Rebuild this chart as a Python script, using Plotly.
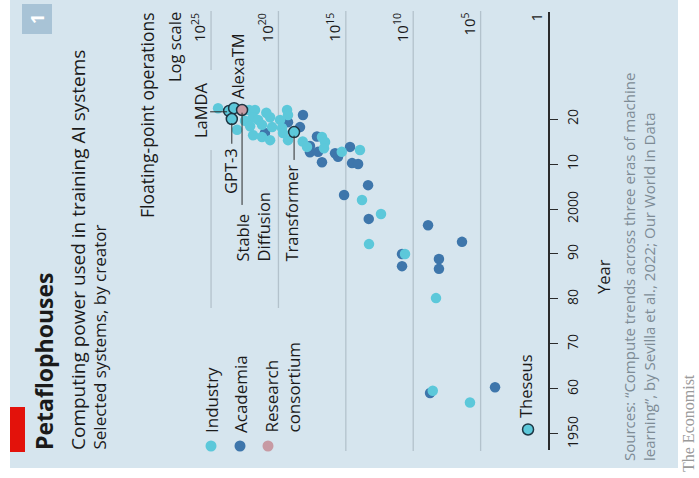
import plotly.graph_objects as go

W, H = 699, 478

# ---- data: publication year and training compute (log10 of FLOP) ----
industry_year = [2022.4, 2022.0, 2022.0, 2020.4, 2019.8, 2018.7, 2020.4, 2018.2, 2019.8,
                 2022.0, 2020.9, 2016.0, 2015.3, 2016.4, 2017.6, 2019.6, 2021.4, 2018.4,
                 2018.0, 2016.9, 2015.3, 2015.0, 2016.0, 2014.9, 2013.8, 2013.5, 2012.7,
                 2013.1, 2002.0, 1998.9, 1992.2, 1990.0, 1980.2, 1959.6, 1957.0]
industry_log_flop = [24.48, 22.18, 21.74, 21.88, 21.51, 21.22, 20.62, 20.47, 19.88,
                     19.36, 19.29, 21.22, 20.62, 21.88, 23.07, 22.48, 20.90, 22.10,
                     19.73, 19.66, 19.29, 18.20, 16.77, 16.54, 17.88, 16.62, 15.30,
                     13.95, 13.80, 12.39, 13.28, 10.61, 8.31, 8.55, 5.79]

academia_year = [2016.9, 2019.3, 2020.9, 2018.2, 2014.0, 2012.6, 2016.1, 2012.7, 2012.4,
                 2011.6, 2013.8, 2010.2, 2010.0, 2010.4, 2005.3, 2003.1, 1997.8, 1996.4,
                 1992.7, 1988.9, 1986.7, 1990.0, 1987.3, 1959.1, 1960.4]
academia_log_flop = [21.00, 19.29, 18.18, 18.40, 17.66, 17.66, 17.14, 17.06, 15.80,
                     15.58, 14.69, 14.54, 14.09, 16.77, 13.35, 15.13, 13.30, 8.90,
                     6.38, 8.09, 8.09, 10.83, 10.83, 8.75, 3.93]

consortium_name = ["Stable<br>Diffusion"]
consortium_year = [2022.0]
consortium_log_flop = [22.70]

named_systems = ["LaMDA", "AlexaTM", "GPT-3", "Transformer", "Theseus"]
named_year = [2021.8, 2022.4, 2020.0, 2017.1, 1951.0]
named_log_flop = [23.66, 23.29, 23.46, 18.84, 1.48]

year_ticks = [1950, 1960, 1970, 1980, 1990, 2000, 2010, 2020]
year_tick_text = ["1950", "60", "70", "80", "90", "2000", "10", "20"]

flop_grid = [25, 20, 15, 10, 5, 0]
flop_grid_text = ["10<sup>25</sup>", "10<sup>20</sup>", "10<sup>15</sup>",
                  "10<sup>10</sup>", "10<sup>5</sup>", "1"]

# ---- colours ----
BG = "#d6e5ee"
INDUSTRY = "#5cc8da"
ACADEMIA = "#3e76ab"
CONSORTIUM = "#c79aa3"
OUTLINE = "#1d3644"
GRID = "#b3c2cc"
AXIS = "#2b2b2b"
TEXT = "#1a1a1a"
FONT = "Open Sans"


def px(x):
    return x / W


def py(y):
    return 1 - y / H


fig = go.Figure()

common = dict(mode="markers", hoverinfo="skip", showlegend=False)
fig.add_trace(go.Scatter(x=academia_log_flop, y=academia_year,
                         marker=dict(size=10.5, color=ACADEMIA, line=dict(width=0)), **common))
fig.add_trace(go.Scatter(x=industry_log_flop, y=industry_year,
                         marker=dict(size=10.5, color=INDUSTRY, line=dict(width=0)), **common))
fig.add_trace(go.Scatter(x=named_log_flop, y=named_year,
                         marker=dict(size=11, color=INDUSTRY, line=dict(width=1.5, color=OUTLINE)),
                         **common))
fig.add_trace(go.Scatter(x=consortium_log_flop, y=consortium_year,
                         marker=dict(size=11, color=CONSORTIUM, line=dict(width=1.5, color=OUTLINE)),
                         **common))

shapes = []
# panel
shapes.append(dict(type="rect", xref="paper", yref="paper", x0=px(10), x1=px(678),
                   y0=py(468), y1=py(0), fillcolor=BG, line=dict(width=0), layer="below"))
# red tab and number badge
shapes.append(dict(type="rect", xref="paper", yref="paper", x0=px(10), x1=px(25),
                   y0=py(452), y1=py(407), fillcolor="#e3120b", line=dict(width=0)))
shapes.append(dict(type="rect", xref="paper", yref="paper", x0=px(22), x1=px(52),
                   y0=py(34), y1=py(4), fillcolor="#a8c3d6", line=dict(width=0)))

# gridlines (some are shortened to leave room for the key and labels)
grid_spans = {25: [(11, 70), (150, 308)], 20: [(11, 308)], 15: [(11, 451)],
              10: [(11, 451)], 5: [(11, 451)]}
for level, spans in grid_spans.items():
    for top, bottom in spans:
        shapes.append(dict(type="line", xref="x", yref="paper", x0=level, x1=level,
                           y0=py(bottom), y1=py(top), line=dict(color=GRID, width=1.3),
                           layer="below"))

# leader lines for named systems
lamda_i = named_systems.index("LaMDA")
gpt_i = named_systems.index("GPT-3")
tr_i = named_systems.index("Transformer")
shapes.append(dict(type="line", xref="x", yref="y", x0=25.07, x1=named_log_flop[lamda_i] + 0.15,
                   y0=named_year[lamda_i] - 0.2, y1=named_year[lamda_i] - 0.2,
                   line=dict(color=AXIS, width=1)))
shapes.append(dict(type="line", xref="x", yref="y", x0=named_log_flop[gpt_i], x1=named_log_flop[gpt_i],
                   y0=named_year[gpt_i] - 0.9, y1=2014.5, line=dict(color=AXIS, width=1)))
shapes.append(dict(type="line", xref="x", yref="y", x0=consortium_log_flop[0], x1=consortium_log_flop[0],
                   y0=consortium_year[0] - 0.6, y1=2000.9, line=dict(color=AXIS, width=1)))
shapes.append(dict(type="line", xref="x", yref="y", x0=named_log_flop[tr_i], x1=named_log_flop[tr_i],
                   y0=named_year[tr_i] - 0.8, y1=2010.9, line=dict(color=AXIS, width=1)))

# key markers
for cx, col in [(211, INDUSTRY), (240, ACADEMIA), (268, CONSORTIUM)]:
    shapes.append(dict(type="circle", xref="paper", yref="paper", xsizemode="pixel",
                       ysizemode="pixel", xanchor=px(cx), yanchor=py(446),
                       x0=-5.5, x1=5.5, y0=-5.5, y1=5.5, fillcolor=col, line=dict(width=0)))

ann = []


def vtext(text, x, y, size, yanchor="bottom", xanchor="center", color=TEXT, family=FONT,
          align="left", xref="paper", yref="paper"):
    ann.append(dict(text=text, x=x, y=y, xref=xref, yref=yref, showarrow=False,
                    textangle=-90, xanchor=xanchor, yanchor=yanchor, align=align,
                    font=dict(size=size, color=color, family=family)))


vtext("<b>Petaflophouses</b>", px(44), py(452), 23)
vtext("Computing power used in training AI systems", px(78), py(452), 19)
vtext("Selected systems, by creator", px(99), py(452), 17)
vtext("Floating-point operations", px(147), py(10), 17.5, yanchor="top")
vtext("Log scale", px(174), py(10), 16.5, yanchor="top")
vtext("<b>1</b>", px(37), py(19), 18, yanchor="middle", color="white")

for level, label in zip(flop_grid, flop_grid_text):
    ann.append(dict(text=label, x=level, y=py(11), xref="x", yref="paper", showarrow=False,
                    textangle=-90, xanchor="right", yanchor="top", xshift=0,
                    font=dict(size=15, color=TEXT, family=FONT)))

# labels for named systems
vtext("LaMDA", px(200), py(140), 16.5)
vtext("AlexaTM", px(238), py(101), 16.5)
vtext("GPT-3", px(230), py(196), 16.5)
vtext(consortium_name[0], px(252), py(264), 16.5)
vtext("Transformer", px(291), py(264), 16.5)
vtext("Theseus", px(525), py(420), 16.5)

# key
vtext("Industry", px(211), py(435), 17)
vtext("Academia", px(240), py(435), 17)
vtext("Research<br>consortium", px(282), py(435), 17)

vtext("Year", px(603), py(277), 16.5, yanchor="middle")
vtext("Sources: \u201cCompute trends across three eras of machine<br>"
      "learning\u201d, by Sevilla et al., 2022; Our World in Data",
      px(639), py(463), 15, color="#7d8b95")
vtext("The Economist", px(688), py(474), 16, color="#9a9a9a", family="Liberation Serif")

fig.update_layout(
    width=W, height=H, margin=dict(l=0, r=0, t=0, b=0),
    paper_bgcolor="white", plot_bgcolor="rgba(0,0,0,0)",
    shapes=shapes, annotations=ann,
    xaxis=dict(domain=[px(200), px(548)], range=[25.82, 0], showgrid=False, zeroline=False,
               showticklabels=False, ticks="", showline=False, fixedrange=True),
    yaxis=dict(domain=[py(450), py(12)], range=[1946.44, 2043.78], side="right",
               showgrid=False, zeroline=False, showline=True, linecolor=AXIS, linewidth=1.5,
               ticks="outside", ticklen=8, tickwidth=1.3, tickcolor=AXIS,
               tickvals=year_ticks, ticktext=year_tick_text, tickangle=-90,
               ticklabelstandoff=3,
               tickfont=dict(size=14, color=TEXT, family=FONT), fixedrange=True),
)

fig.write_html("out.html")
